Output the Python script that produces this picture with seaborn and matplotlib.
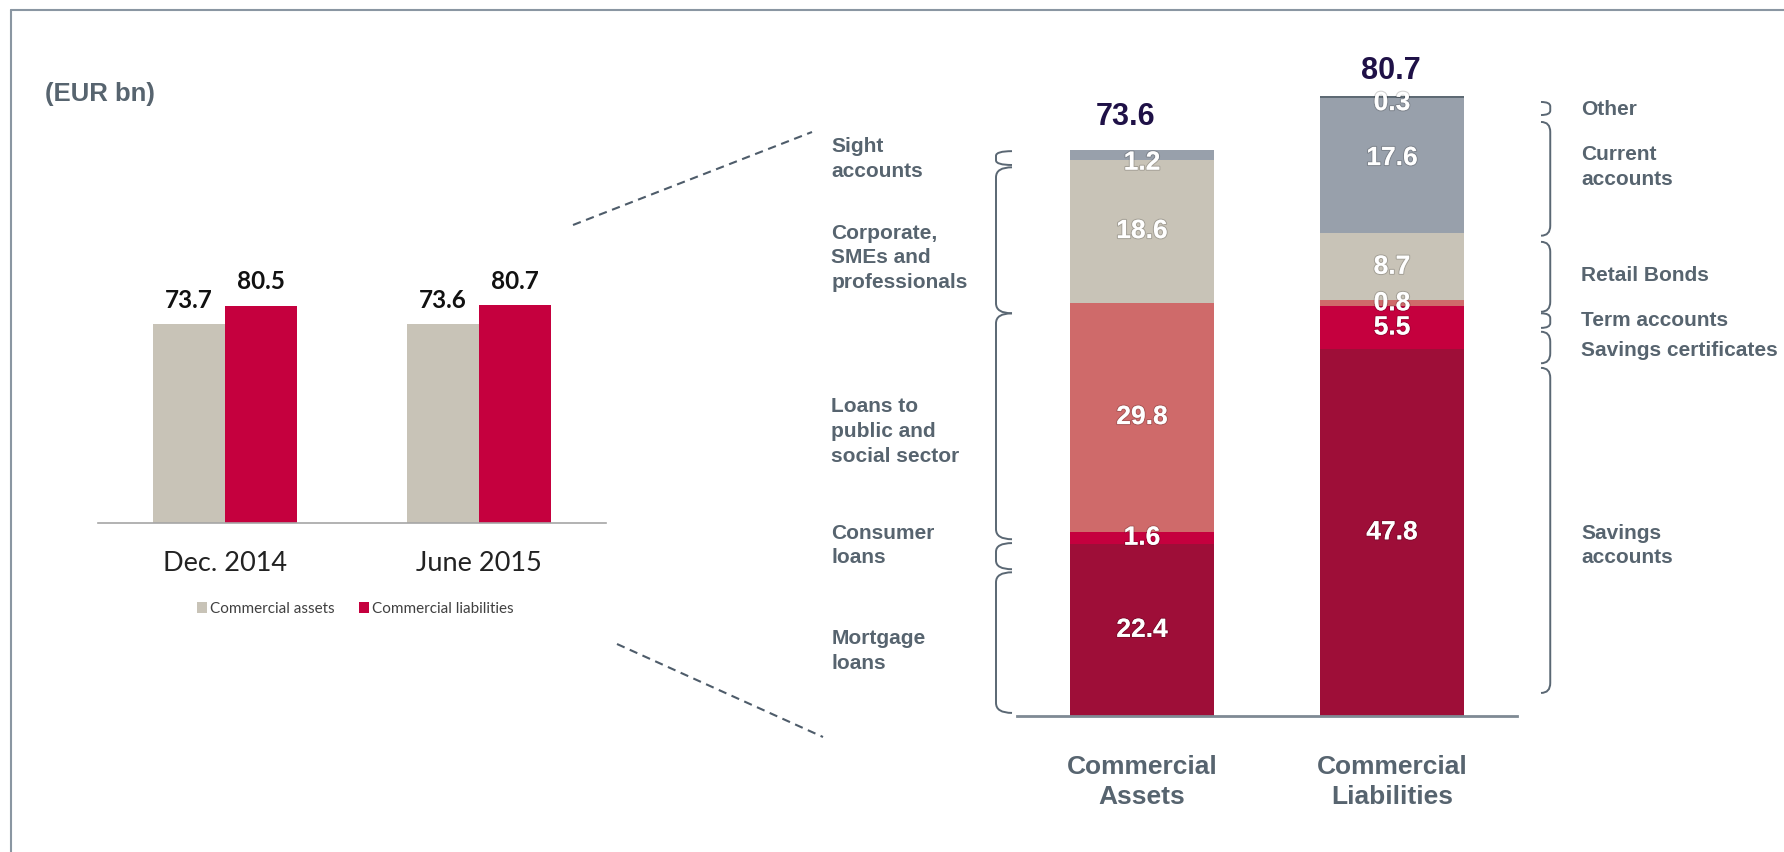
import numpy as np
import pandas as pd
import matplotlib.pyplot as plt
import seaborn as sns
from matplotlib.lines import Line2D
from matplotlib.path import Path
from matplotlib.patches import PathPatch
import matplotlib.patheffects as pe

# --- data ---
periods = ['Dec. 2014', 'June 2015']
assets_total = [73.7, 73.6]
liabilities_total = [80.5, 80.7]

bar_names = ['Commercial\nAssets', 'Commercial\nLiabilities']

asset_labels = ['Mortgage\nloans', 'Consumer\nloans', 'Loans to\npublic and\nsocial sector',
                'Corporate,\nSMEs and\nprofessionals', 'Sight\naccounts']
asset_values = [22.4, 1.6, 29.8, 18.6, 1.2]

liab_labels = ['Savings\naccounts', 'Savings certificates', 'Term accounts',
               'Retail Bonds', 'Current\naccounts', 'Other']
liab_values = [47.8, 5.5, 0.8, 8.7, 17.6, 0.3]

# --- layout (annotation positions, in value units) ---
asset_text_y = [8.5, 22.2, 37.0, 59.6, 72.5]
asset_braces = [(0.4, 18.7), (19.1, 22.5), (23.0, 52.4), (52.4, 71.4), (71.7, 73.5)]
asset_nudge = [0, 0, 0, 0, -1.0]
liab_text_y = [22.2, 47.5, 51.4, 57.3, 71.4, 78.9]
liab_braces = [(3.0, 45.3), (45.9, 50.0), (50.5, 52.4), (52.6, 61.7), (62.5, 77.3), (78.2, 79.9)]
liab_nudge = [0, 0, 0, 0, 1.0, -0.8]

DARK = '#9E0E38'
RED = '#C5003E'
SALMON = '#CF6A6A'
BEIGE = '#C8C3B7'
SLATE = '#98A0AB'
OTHER = '#5E6A74'
TXT = '#57646F'
LINE = '#5A6773'

asset_colors = [DARK, RED, SALMON, BEIGE, SLATE]
liab_colors = [DARK, RED, SALMON, BEIGE, SLATE, OTHER]

W, H = 1784, 852
def fx(p):
    return p / W
def fy(p):
    return 1 - p / H

sns.set_style('white')
plt.rcParams['font.family'] = ['Liberation Sans', 'DejaVu Sans']

fig = plt.figure(figsize=(W / 100, H / 100), dpi=100)

# --- left: small grouped chart ---
ax1 = fig.add_axes([fx(98), fy(523), 508 / W, 270 / H])
df_left = pd.DataFrame({
    'period': periods * 2,
    'value': assets_total + liabilities_total,
    'series': ['Commercial assets'] * 2 + ['Commercial liabilities'] * 2,
})
sns.barplot(data=df_left, x='period', y='value', hue='series', palette=[BEIGE, RED],
            saturation=1, width=0.57, linewidth=0, ax=ax1)
for c in ax1.containers:
    ax1.bar_label(c, fmt='%.1f', padding=9, fontsize=17.5, fontweight='bold',
                  family='Lato', color='#111111')
ax1.set_xlim(-0.5, 1.5)
ax1.set_ylim(0, 100)
ax1.set_yticks([])
ax1.set_xlabel('')
ax1.set_ylabel('')
sns.despine(ax=ax1, left=True)
ax1.spines['bottom'].set_color('#A6A6A6')
ax1.spines['bottom'].set_linewidth(1.2)
ax1.set_xticks([-0.5, 0.5, 1.5], minor=True)
ax1.tick_params(axis='x', which='major', length=0, pad=20, labelsize=19.5, labelcolor='#222222')
ax1.tick_params(axis='x', which='minor', length=6, width=1.2, color='#A6A6A6', direction='out')
for t in ax1.get_xticklabels():
    t.set_family('Lato')
handles, labels = ax1.get_legend_handles_labels()
ax1.legend_.remove()
fig.legend(handles, labels, loc='center', bbox_to_anchor=(fx(355), fy(609)), ncol=2,
           frameon=False, prop={'family': 'Lato', 'size': 11}, labelcolor='#404040',
           handlelength=0.7, handleheight=0.7, handletextpad=0.15, columnspacing=1.6)

# --- right: stacked breakdown ---
ax2 = fig.add_axes([fx(1017), fy(716), 500 / W, 90 * 7.685 / H])


def stacked(ax, name, values, colors, nudges):
    tops = np.cumsum(values)
    for top, col in zip(tops[::-1], colors[::-1]):
        d = pd.DataFrame({'bar': [name], 'v': [top]})
        sns.barplot(data=d, x='bar', y='v', order=bar_names, color=col, saturation=1,
                    width=0.574, linewidth=0, errorbar=None, ax=ax)
    i = bar_names.index(name)
    for top, v, n in zip(tops, values, nudges):
        ax.text(i, top - v / 2 + n, f'{v:.1f}', ha='center', va='center', fontsize=19,
                fontweight='bold', color='white',
                path_effects=[pe.withStroke(linewidth=1.5, foreground=(0, 0, 0, 0.18))])
    return tops[-1]


def bracket(ax, x, tip, y0, y1):
    h = y1 - y0
    r = min(1.3, h / 3)
    verts = [(tip, y1), (x, y1), (x, y1 - r), (x, y0 + r), (x, y0), (tip, y0)]
    codes = [Path.MOVETO, Path.CURVE3, Path.CURVE3, Path.LINETO, Path.CURVE3, Path.CURVE3]
    ax.add_patch(PathPatch(Path(verts, codes), fill=False, edgecolor=LINE, lw=1.4,
                           clip_on=False))


tot_a = stacked(ax2, bar_names[0], asset_values, asset_colors, asset_nudge)
tot_l = stacked(ax2, bar_names[1], liab_values, liab_colors, liab_nudge)

ax2.annotate(f'{tot_a:.1f}', xy=(0, tot_a), xytext=(-11.5, 18.5), textcoords='offset points',
             ha='center', va='baseline', fontsize=22, fontweight='bold', color='#1F1147')
ax2.annotate(f'{tot_l:.1f}', xy=(1, tot_l), xytext=(-1, 12), textcoords='offset points',
             ha='center', va='baseline', fontsize=22, fontweight='bold', color='#1F1147')

for lab, ty, (b0, b1) in zip(asset_labels, asset_text_y, asset_braces):
    ax2.text(-1.243, ty, lab, ha='left', va='center', fontsize=15, fontweight='bold',
             color=TXT, linespacing=1.38, clip_on=False)
    bracket(ax2, -0.584, -0.52, b0, b1)

for lab, ty, (b0, b1) in zip(liab_labels, liab_text_y, liab_braces):
    ax2.text(1.757, ty, lab, ha='left', va='center', fontsize=15, fontweight='bold',
             color=TXT, linespacing=1.38, clip_on=False)
    bracket(ax2, 1.633, 1.596, b0, b1)

ax2.set_xlim(-0.5, 1.5)
ax2.set_ylim(0, 90)
ax2.set_yticks([])
ax2.set_xlabel('')
ax2.set_ylabel('')
sns.despine(ax=ax2, left=True)
ax2.spines['bottom'].set_color('#7F8A94')
ax2.spines['bottom'].set_linewidth(2)
ax2.set_xticks([0, 1])
ax2.set_xticklabels(bar_names, fontsize=19, fontweight='bold', color=TXT, linespacing=1.3)
ax2.tick_params(axis='x', length=0, pad=28)

# --- decorations: frame, zoom lines, unit ---
fig.add_artist(Line2D([fx(11), fx(11)], [fy(10), 0], transform=fig.transFigure,
                      color='#8A96A2', lw=1.5))
fig.add_artist(Line2D([fx(11), 1], [fy(10), fy(10)], transform=fig.transFigure,
                      color='#8A96A2', lw=1.5))
fig.add_artist(Line2D([fx(573), fx(812)], [fy(225), fy(132)], transform=fig.transFigure,
                      color='#4E5C6A', lw=1.5, ls=(0, (4, 2.7))))
fig.add_artist(Line2D([fx(617), fx(823)], [fy(644), fy(737)], transform=fig.transFigure,
                      color='#4E5C6A', lw=1.5, ls=(0, (4, 2.7))))
fig.text(fx(45), fy(94), '(EUR bn)', ha='left', va='center', fontsize=18.5,
         fontweight='bold', color=TXT)

fig.savefig('out.png', dpi=100)
